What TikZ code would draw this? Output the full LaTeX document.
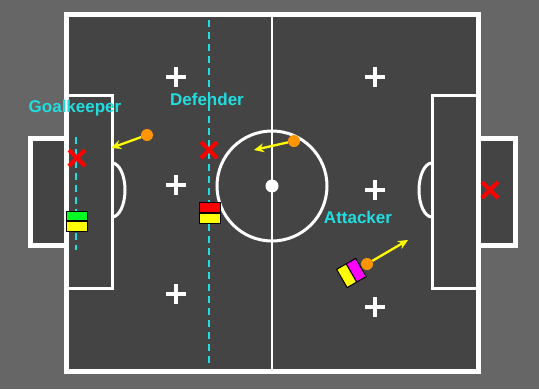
\documentclass[tikz,border=0pt]{standalone}
\usepackage{fontspec}
\setmainfont{Liberation Sans}
\usetikzlibrary{arrows.meta,shapes.misc}
\definecolor{bg}{HTML}{666666}
\definecolor{pitch}{HTML}{444444}
\definecolor{cyanl}{HTML}{22DDE0}
\definecolor{ballc}{HTML}{FF9500}
\definecolor{yel}{HTML}{FFFF00}
\definecolor{grn}{HTML}{00FF22}
\definecolor{mag}{HTML}{FF00FF}
\tikzset{
  fieldline/.style={draw=white,line width=5pt},
  thinline/.style={draw=white,line width=3pt},
  plusmark/.style={draw=white,line width=3.5pt},
  dashline/.style={draw=cyanl,line width=2.5pt,dash pattern=on 7pt off 5pt},
  redx/.style={cross out,draw=red,line width=4pt,minimum size=12pt,inner sep=0pt},
  ball/.style={circle,fill=ballc,minimum size=12pt,inner sep=0pt},
  movearrow/.style={draw=yel,line width=2.3pt,-{Stealth[length=10pt,width=9pt]}},
  role/.style={text=cyanl,font=\fontsize{17}{20}\selectfont\bfseries,inner sep=0pt},
  patch/.style={draw=black,line width=1pt}
}
\begin{document}
\begin{tikzpicture}[x=1pt,y=-1pt]
\useasboundingbox (0,0) rectangle (539,389);
\fill[bg] (0,0) rectangle (539,389);
% goals
\filldraw[fill=pitch,fieldline] (30,138) rectangle (66,245);
\filldraw[fill=pitch,fieldline] (478,138) rectangle (515,245);
% field
\filldraw[fill=pitch,fieldline] (66,14) rectangle (478,371);
% penalty boxes
\draw[thinline] (66,95) rectangle (112,288);
\draw[thinline] (432,95) rectangle (478,288);
\draw[thinline] (112,163) arc[start angle=-90,end angle=90,x radius=13,y radius=27];
\draw[thinline] (432,163) arc[start angle=-90,end angle=-270,x radius=13,y radius=27];
% centre
\draw[white,line width=2.5pt] (272,14) -- (272,371);
\draw[thinline] (272,186) circle[radius=55];
\fill[white] (272,186) circle[radius=6.5];
% plus marks
\foreach \px/\py in {176/77,176/185,176/294,375/77,375/190,375/307}
  \draw[plusmark] (\px-10,\py) -- (\px+10,\py) (\px,\py-10) -- (\px,\py+10);
% dashed lines
\draw[dashline] (76,137) -- (76,250);
\draw[dashline] (209,20) -- (209,366);
% crosses
\node[redx] (x1) at (77,158) {};
\node[redx] (x2) at (209,150) {};
\node[redx] (x3) at (490,190) {};
% labels
\node[role] (lg) at (75,108) {Goalkeeper};
\node[role] (ld) at (207,99) {Defender};
\node[role] (la) at (358,217) {Attacker};
% goalkeeper robot
\filldraw[fill=grn,patch] (66,211) rectangle (87,221);
\filldraw[fill=yel,patch] (66,221) rectangle (87,231);
\draw[black,line width=2pt] (66,221) -- (87,221);
% defender robot
\filldraw[fill=red,patch] (199,202) rectangle (220,213);
\filldraw[fill=yel,patch] (199,213) rectangle (220,223);
\draw[black,line width=2pt] (199,213) -- (220,213);
% attacker robot
\begin{scope}[shift={(367,264)},rotate=30]
\filldraw[fill=mag,patch] (-18,-10.5) rectangle (-7,10.5);
\filldraw[fill=yel,patch] (-29,-10.5) rectangle (-18,10.5);
\end{scope}
% balls and arrows
\node[ball] (b1) at (147,135) {};
\coordinate (t1) at (111,148);
\draw[movearrow] (b1) -- (t1);
\node[ball] (b2) at (294,141) {};
\coordinate (t2) at (254,150);
\draw[movearrow] (b2) -- (t2);
\node[ball] (b3) at (367,264) {};
\coordinate (t3) at (408,240);
\draw[movearrow] (b3) -- (t3);
\end{tikzpicture}
\end{document}
